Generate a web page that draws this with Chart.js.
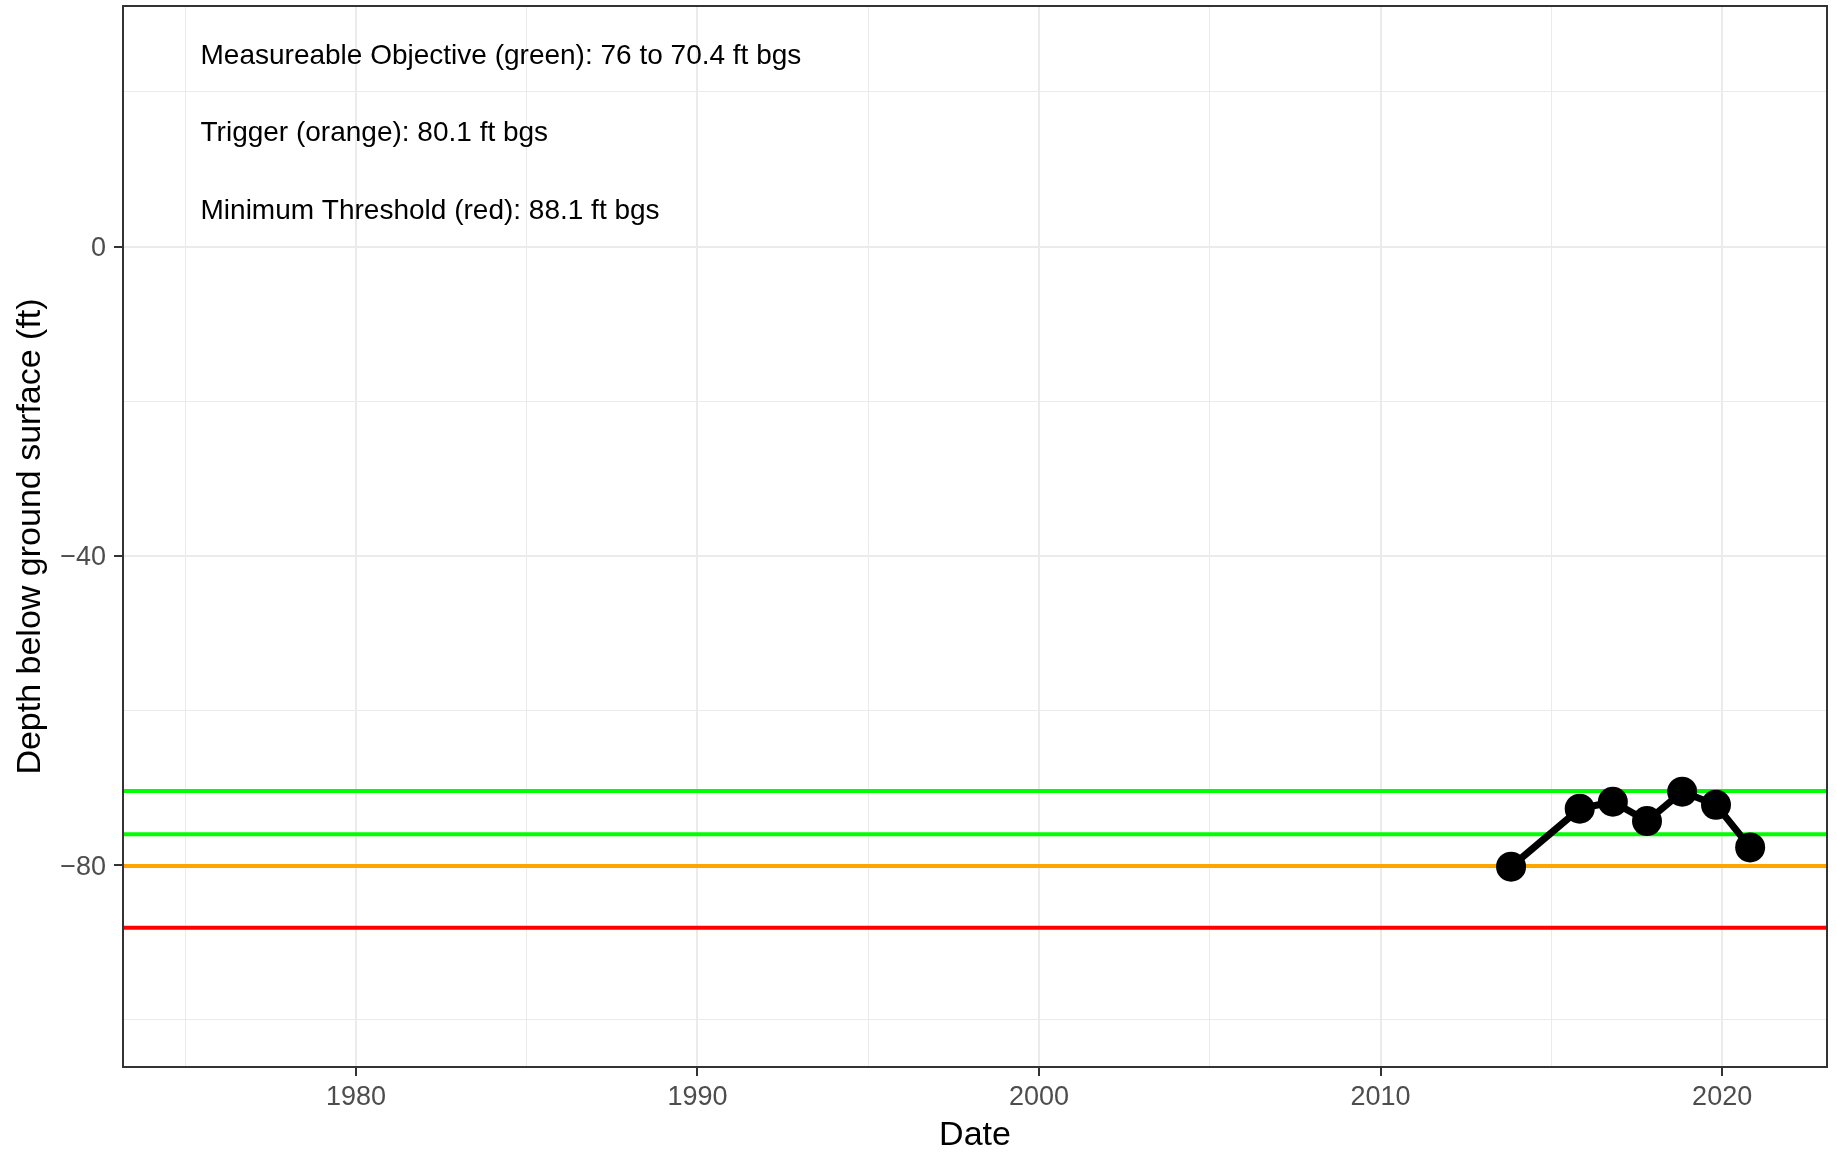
<!DOCTYPE html>
<html>
<head>
<meta charset="utf-8">
<title>Depth below ground surface</title>
<script src="https://cdn.jsdelivr.net/npm/chart.js@4.4.1/dist/chart.umd.min.js"></script>
<style>
  html, body { margin: 0; padding: 0; background: #ffffff; }
  #wrap { width: 1837px; height: 1154px; }
</style>
</head>
<body>
<div id="wrap"><canvas id="depthChart" width="1837" height="1154"></canvas></div>
<script>
// observed depth to water (decimal year, ft; negative = below ground surface)
const obsYears = [2013.82, 2015.83, 2016.80, 2017.80, 2018.83, 2019.82, 2020.82];
const obsDepths = [-80.2, -72.7, -71.8, -74.3, -70.5, -72.2, -77.7];

// sustainability criteria (ft)
const objectiveLevels = [-70.4, -76];
const triggerLevel = -80.1;
const thresholdLevel = -88.1;

// axes
const xLimits = [1973.18, 2023.07];
const yLimits = [-106.1, 31.1];
const xTicks = [1975, 1980, 1985, 1990, 1995, 2000, 2005, 2010, 2015, 2020];
const xLabelled = [1980, 1990, 2000, 2010, 2020];
const yTicks = [20, 0, -20, -40, -60, -80, -100];
const yLabelled = [0, -40, -80];

// text notes in the top left of the panel
const notes = [
    'Measureable Objective (green): 76 to 70.4 ft bgs',
    'Trigger (orange): 80.1 ft bgs',
    'Minimum Threshold (red): 88.1 ft bgs'
];
const noteY = [25, 15, 5];
const noteX = 1975.45;

const FONT = '"Liberation Sans", Arial, Helvetica, sans-serif';
Chart.defaults.font.family = FONT;

function hline(y, color) {
    return {
        data: [{ x: xLimits[0], y: y }, { x: xLimits[1], y: y }],
        showLine: true,
        borderColor: color,
        borderWidth: 4,
        pointRadius: 0,
        pointHoverRadius: 0,
        order: 1
    };
}

function isMajor(ctx, list) {
    return ctx.tick && list.includes(ctx.tick.value);
}

// panel border + text notes, drawn on top like ggplot does
const panelExtras = {
    id: 'panelExtras',
    afterDraw(chart) {
        const { ctx, chartArea: a, scales } = chart;
        ctx.save();
        ctx.strokeStyle = '#333333';
        ctx.lineWidth = 2;
        ctx.strokeRect(a.left, a.top, a.right - a.left, a.bottom - a.top);

        ctx.fillStyle = '#000000';
        ctx.font = '28px ' + FONT;
        ctx.textAlign = 'left';
        ctx.textBaseline = 'middle';
        notes.forEach((t, i) => {
            // +3: ggplot centres on the glyphs, canvas on the em box
            ctx.fillText(t, scales.x.getPixelForValue(noteX), scales.y.getPixelForValue(noteY[i]) + 3);
        });
        ctx.restore();
    }
};

const depthCtx = document.getElementById('depthChart');
const depthChart = new Chart(depthCtx, {
    type: 'scatter',
    data: {
        datasets: [{
            label: 'Depth',
            data: obsYears.map((x, i) => ({ x: x, y: obsDepths[i] })),
            showLine: true,
            borderColor: '#000000',
            borderWidth: 7,
            pointRadius: 15,
            pointHoverRadius: 15,
            pointBackgroundColor: '#000000',
            pointBorderWidth: 0,
            order: 0
        },
        hline(objectiveLevels[0], '#00FF00'),
        hline(objectiveLevels[1], '#00FF00'),
        hline(triggerLevel, '#FFA500'),
        hline(thresholdLevel, '#FF0000')]
    },
    options: {
        responsive: false,
        animation: false,
        layout: {
            autoPadding: false,
            padding: { left: 0, top: 6, right: 10, bottom: 0 }
        },
        plugins: {
            legend: { display: false },
            tooltip: { enabled: false }
        },
        scales: {
            x: {
                type: 'linear',
                min: xLimits[0],
                max: xLimits[1],
                afterBuildTicks: s => { s.ticks = xTicks.map(v => ({ value: v })); },
                afterFit: s => { s.height = 87; s.paddingLeft = 0; s.paddingRight = 0; },
                border: { display: false },
                grid: {
                    color: '#EBEBEB',
                    lineWidth: ctx => isMajor(ctx, xLabelled) ? 2 : 1,
                    tickColor: ctx => isMajor(ctx, xLabelled) ? '#333333' : 'rgba(0,0,0,0)',
                    tickLength: 9,
                    tickWidth: 2
                },
                ticks: {
                    autoSkip: false,
                    maxRotation: 0,
                    padding: 5,
                    color: '#4D4D4D',
                    font: { size: 27 },
                    callback: v => xLabelled.includes(v) ? String(v) : ''
                },
                title: {
                    display: true,
                    text: 'Date',
                    color: '#000000',
                    font: { size: 34, lineHeight: 1.1 },
                    padding: { top: 0, bottom: 0 }
                }
            },
            y: {
                type: 'linear',
                min: yLimits[0],
                max: yLimits[1],
                afterBuildTicks: s => { s.ticks = yTicks.map(v => ({ value: v })); },
                afterFit: s => { s.width = 123; s.paddingTop = 0; s.paddingBottom = 0; },
                border: { display: false },
                grid: {
                    color: '#EBEBEB',
                    lineWidth: ctx => isMajor(ctx, yLabelled) ? 2 : 1,
                    tickColor: ctx => isMajor(ctx, yLabelled) ? '#333333' : 'rgba(0,0,0,0)',
                    tickLength: 9,
                    tickWidth: 2
                },
                ticks: {
                    autoSkip: false,
                    padding: 8,
                    labelOffset: 2,
                    color: '#4D4D4D',
                    font: { size: 27 },
                    callback: v => yLabelled.includes(v) ? (v < 0 ? '\u2212' + Math.abs(v) : String(v)) : ''
                },
                title: {
                    display: true,
                    text: 'Depth below ground surface (ft)',
                    color: '#000000',
                    font: { size: 34 },
                    padding: { top: 10, bottom: 0 }
                }
            }
        }
    },
    plugins: [panelExtras]
});
</script>
</body>
</html>
